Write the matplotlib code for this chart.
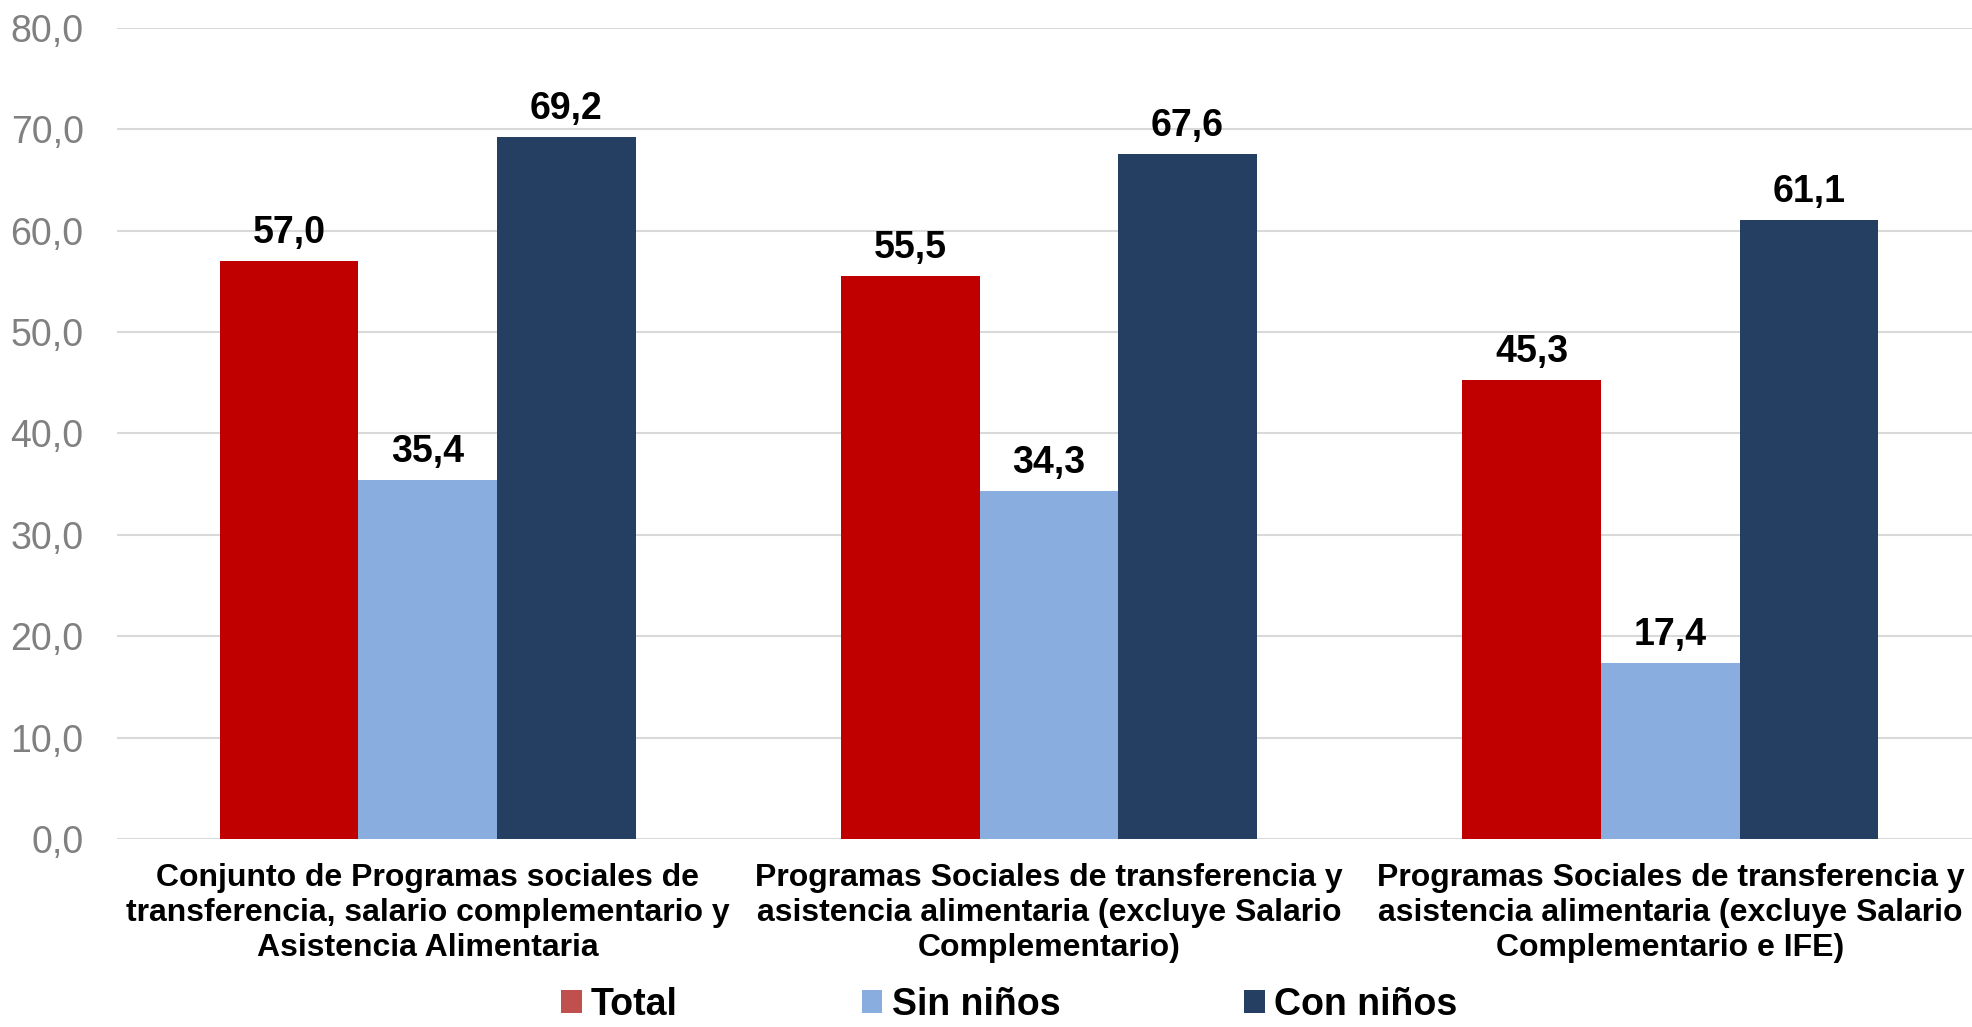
import matplotlib
matplotlib.use("Agg")
import matplotlib.pyplot as plt
from matplotlib.patches import Patch
import numpy as np

categories = [
    "Conjunto de Programas sociales de\ntransferencia, salario complementario y\nAsistencia Alimentaria",
    "Programas Sociales de transferencia y\nasistencia alimentaria (excluye Salario\nComplementario)",
    "Programas Sociales de transferencia y\nasistencia alimentaria (excluye Salario\nComplementario e IFE)",
]
series_names = ["Total", "Sin niños", "Con niños"]
total = [57.0, 55.5, 45.3]
sin_ninos = [35.4, 34.3, 17.4]
con_ninos = [69.2, 67.6, 61.1]
yticks = [0, 10, 20, 30, 40, 50, 60, 70, 80]

bar_colors = ["#C00000", "#8AADE0", "#243F61"]
legend_colors = ["#C0504D", "#8AADE0", "#243F61"]

plt.rcParams['font.family'] = ['Liberation Sans', 'DejaVu Sans']

fig = plt.figure(figsize=(19.72, 10.27), dpi=100)
ax = fig.add_axes([117/1972, 1-839/1027, (1981-117)/1972, (839-28)/1027])

x = np.arange(len(categories))
w = 0.223
series = [total, sin_ninos, con_ninos]
for i, (vals, col) in enumerate(zip(series, bar_colors)):
    bars = ax.bar(x + (i-1)*w, vals, width=w, color=col, zorder=2)
    for b, v in zip(bars, vals):
        ax.annotate(f"{v:.1f}".replace('.', ','),
                    (b.get_x() + b.get_width()/2, b.get_height()),
                    xytext=(0, 13), textcoords='offset points',
                    ha='center', va='baseline', fontsize=27,
                    fontweight='bold', color='black')

ax.set_xlim(-0.5, 2.5)
ax.set_ylim(0, 80)
ax.set_yticks(yticks)
ax.set_yticklabels([f"{t:.1f}".replace('.', ',') for t in yticks],
                   fontsize=27, color='#808080')
ax.set_xticks(x)
ax.set_xticklabels(categories, fontsize=23, fontweight='bold',
                   multialignment='center', linespacing=1.23)
ax.tick_params(axis='y', length=0, pad=24)
ax.tick_params(axis='x', length=0, pad=17)
ax.grid(axis='y', color='#D9D9D9', linewidth=1.5, zorder=0)
ax.set_axisbelow(True)
for s in ax.spines.values():
    s.set_visible(False)

handles = [Patch(facecolor=c, edgecolor='none') for c in legend_colors]
fig.legend(handles, series_names, loc='center', ncol=3,
           bbox_to_anchor=(1009/1972, 1-1005/1027), frameon=False,
           prop={'family': 'Liberation Sans', 'weight': 'bold', 'size': 27},
           handlelength=0.55, handleheight=0.55, handletextpad=0.25,
           columnspacing=4.9, borderpad=0.1)

fig.savefig("out.png", dpi=100)
